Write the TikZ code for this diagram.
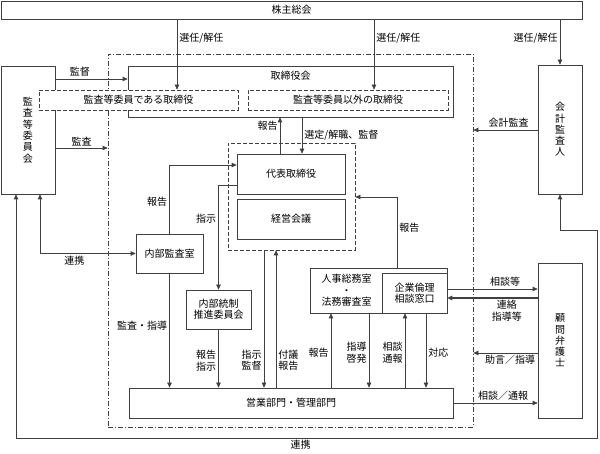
\documentclass[tikz,border=0pt]{standalone}
\usepackage{fontspec}
\setmainfont{Noto Sans CJK JP}
\usepackage{tikz}
\usetikzlibrary{arrows.meta, positioning, calc}

\begin{document}
\begin{tikzpicture}[x=1pt, y=-1pt, font=\fontsize{10}{11.3}\selectfont,
    >={Triangle[length=5pt,width=4.5pt]},
    box/.style={draw=black!75, line width=0.7pt, inner sep=0pt, align=center},
    dbox/.style={box, dash pattern=on 4pt off 2pt},
    ln/.style={draw=black!75, line width=0.7pt, ->},
    both/.style={ln, <->},
    lbl/.style={inner sep=2pt, align=center}]
      \useasboundingbox (0,0) rectangle (600,454);

      \node[box, minimum width=581, minimum height=18] (soukai) at (291.5,10) {株主総会};
      \node[box, minimum width=54, minimum height=128] (kansaiin) at (28,130) {監\\査\\等\\委\\員\\会};
      \node[box, minimum width=44, minimum height=129] (kaikei) at (560,129.5) {会\\計\\監\\査\\人};
      \node[box, minimum width=44, minimum height=155] (komon) at (560,340.5) {顧\\問\\弁\\護\\士};

      \node[box, dash pattern=on 5pt off 2pt on 1pt off 2pt, minimum width=365, minimum height=373] (shikkou) at (290.5,240.5) {};
      \node[box, minimum width=325, minimum height=51,
            label={[anchor=north, yshift=-2pt]north:取締役会}] (torishimari) at (290.5,91.5) {};
      \node[dbox, fill=white, minimum width=199, minimum height=20] (iin1) at (138.5,100) {監査等委員である取締役};
      \node[dbox, fill=white, minimum width=200, minimum height=20] (iin2) at (348,100) {監査等委員以外の取締役};

      \node[dbox, minimum width=127, minimum height=107] (keieisou) at (291.5,196.5) {};
      \node[box, minimum width=108, minimum height=40] (daihyo) at (291,174) {代表取締役};
      \node[box, minimum width=108, minimum height=40] (keiei) at (291,219) {経営会議};

      \node[box, minimum width=67, minimum height=39] (naibu) at (169.5,253.5) {内部監査室};
      \node[box, minimum width=65, minimum height=39] (tousei) at (218.5,309.5) {内部統制\\推進委員会};
      \node[box, minimum width=137, minimum height=45,
            label={[xshift=-32pt, align=center]center:人事総務室\\・\\法務審査室}] (jinji) at (378.5,290.5) {};
      \node[box, fill=white, minimum width=65, minimum height=40] (rinri) at (414.5,293) {企業倫理\\相談窓口};
      \node[box, minimum width=324, minimum height=30] (eigyo) at (291,403) {営業部門・管理部門};

      \draw[ln] (177,0 |- soukai.south) -- node[lbl, right, pos=0.27] {選任/解任} (177,0 |- iin1.north);
      \draw[ln] (374,0 |- soukai.south) -- node[lbl, right, pos=0.27] {選任/解任} (374,0 |- iin2.north);
      \draw[ln] (kaikei.north |- soukai.south) -- node[lbl, left, pos=0.41] {選任/解任} (kaikei.north);

      \draw[ln] (kansaiin.east |- 0,79) -- node[lbl, above, pos=0.34] {監督} (torishimari.west |- 0,79);
      \draw[ln] (kansaiin.east |- 0,148) -- node[lbl, above] {監査} (shikkou.west |- 0,148);
      \draw[ln] (kaikei.west |- 0,130) -- node[lbl, above, pos=0.45] {会計監査} (shikkou.east |- 0,130);

      \draw[both] (kaikei.south) -- (560,230) -- (597,230) -- (597,438)
            -- node[lbl, below, pos=0.51] {連携} (16,438) -- (16,0 |- kansaiin.south);
      \draw[both] (40,0 |- kansaiin.south) |- node[lbl, below, pos=0.68] {連携} (naibu.west);

      \draw[ln] (naibu.north) |- node[lbl, left, pos=0.23] {報告} (daihyo.west |- 0,165);
      \draw[ln] (daihyo.west |- 0,185) -| node[lbl, left, pos=0.66] {指示} (tousei.north);
      \draw[ln] (280,0 |- daihyo.north) -- node[lbl, left, pos=0.77] {報告} (280,0 |- torishimari.south);
      \draw[ln] (302,0 |- torishimari.south) -- node[lbl, right, pos=0.49] {選定/解職、監督} (302,0 |- daihyo.north);

      \draw[ln] (naibu.south) -- node[lbl, left, pos=0.46] {監査・指導} (naibu.south |- eigyo.north);
      \draw[ln] (tousei.south) -- node[lbl, left, pos=0.54] {報告\\指示} (tousei.south |- eigyo.north);
      \draw[ln] (264,0 |- keieisou.south) -- node[lbl, left, pos=0.8] {指示\\監督} (264,0 |- eigyo.north);
      \draw[ln] (276,0 |- eigyo.north) -- node[lbl, right, pos=0.2] {付議\\報告} (276,0 |- keieisou.south);

      \draw[ln] (397,0 |- jinji.north) |- node[lbl, right, pos=0.28] {報告} (keieisou.east |- 0,197);
      \draw[ln] (331,0 |- eigyo.north) -- node[lbl, left, pos=0.47] {報告} (331,0 |- jinji.south);
      \draw[ln] (369,0 |- jinji.south) -- node[lbl, left, pos=0.53] {指導\\啓発} (369,0 |- eigyo.north);
      \draw[ln] (405,0 |- eigyo.north) -- node[lbl, left, pos=0.47] {相談\\通報} (405,0 |- rinri.south);
      \draw[ln] (426,0 |- rinri.south) -- node[lbl, right, pos=0.53] {対応} (426,0 |- eigyo.north);

      \draw[ln] (rinri.east |- 0,289) -- node[lbl, above, pos=0.64] {相談等} (komon.west |- 0,289);
      \draw[ln, line width=1.2pt] (komon.west |- 0,298) -- node[lbl, below, pos=0.34] {連絡\\指導等} (rinri.east |- 0,298);
      \draw[ln] (komon.west |- 0,353) -- node[lbl, below, pos=0.43] {助言／指導} (shikkou.east |- 0,353);
      \draw[ln] (eigyo.east |- 0,403) -- node[lbl, above, pos=0.59] {相談／通報} (komon.west |- 0,403);
    \end{tikzpicture}
\end{document}
